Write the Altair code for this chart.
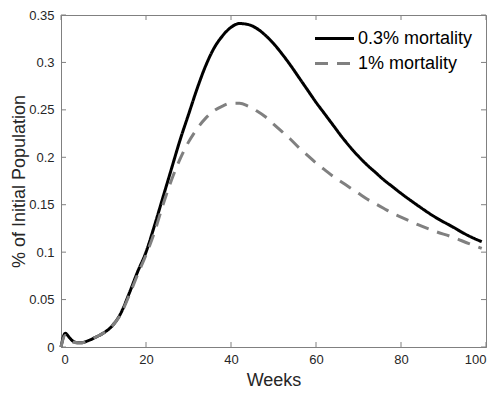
import altair as alt
import pandas as pd

# ---- data ----
weeks = [0, 1, 2, 3, 4, 5, 6, 7, 8, 10, 12, 14, 16, 18, 20, 22, 24, 26, 28, 30,
         32, 34, 36, 38, 40, 42, 44, 46, 48, 50, 52, 54, 56, 58, 60, 62, 64, 66,
         68, 70, 72, 74, 76, 78, 80, 84, 88, 92, 96, 99]
mort_03 = [0, 0.0144, 0.0098, 0.0056, 0.0045, 0.0045, 0.006, 0.0078, 0.010, 0.0148,
           0.022, 0.035, 0.056, 0.079, 0.100, 0.128, 0.158, 0.188, 0.218, 0.245,
           0.272, 0.296, 0.315, 0.328, 0.337, 0.341, 0.340, 0.336, 0.329, 0.320,
           0.309, 0.297, 0.284, 0.271, 0.258, 0.246, 0.234, 0.222, 0.211, 0.201,
           0.192, 0.184, 0.176, 0.169, 0.162, 0.149, 0.137, 0.127, 0.117, 0.111]
mort_1 = [0, 0.012, 0.008, 0.005, 0.0045, 0.0045, 0.006, 0.0078, 0.010, 0.0148,
          0.022, 0.034, 0.054, 0.076, 0.097, 0.121, 0.150, 0.176, 0.198, 0.216,
          0.230, 0.241, 0.249, 0.254, 0.257, 0.257, 0.254, 0.249, 0.243, 0.235,
          0.227, 0.219, 0.210, 0.202, 0.194, 0.187, 0.180, 0.174, 0.168, 0.162,
          0.156, 0.151, 0.146, 0.141, 0.137, 0.129, 0.122, 0.116, 0.109, 0.104]
series_names = ["0.3% mortality", "1% mortality"]
x_ticks = [0, 20, 40, 60, 80, 100]
y_ticks = [0, 0.05, 0.1, 0.15, 0.2, 0.25, 0.3, 0.35]

W, H = 425, 332
AX = "#808080"
TXT = "#262626"
FONT = "Liberation Sans"

rows = []
for name, vals in zip(series_names, [mort_03, mort_1]):
    for w, v in zip(weeks, vals):
        rows.append({"week": w, "value": v, "series": name})
df = pd.DataFrame(rows)

xs = alt.Scale(domain=[0, 100], nice=False)
ys = alt.Scale(domain=[0, 0.35], nice=False)
x_axis = alt.Axis(values=x_ticks, format="d", title="Weeks",
                  labelPadding=6, titlePadding=5, titleFontSize=18)
y_axis = alt.Axis(values=y_ticks, format="~g", title="% of Initial Population",
                  labelPadding=7, titlePadding=0, titleFontSize=18)

legend = alt.Legend(
    title=None, orient="none", legendX=262, legendY=12, padding=0,
    symbolType="M-2,0H2", symbolSize=380, symbolStrokeWidth=3,
    labelFont=FONT, labelFontSize=18, labelColor="#000000",
    labelOffset=12, rowPadding=4,
)

lines = alt.Chart(df).mark_line(strokeWidth=3, interpolate="monotone").encode(
    x=alt.X("week:Q", scale=xs, axis=x_axis),
    y=alt.Y("value:Q", scale=ys, axis=y_axis),
    color=alt.Color("series:N",
                    scale=alt.Scale(domain=series_names, range=["#000000", "#808080"]),
                    legend=legend),
    strokeDash=alt.StrokeDash("series:N",
                              scale=alt.Scale(domain=series_names, range=[[1, 0], [13, 9]]),
                              legend=legend),
)

xt = pd.DataFrame({"t": x_ticks})
yt = pd.DataFrame({"t": y_ticks})

bottom_ticks = alt.Chart(xt).mark_rule(color=AX, strokeWidth=1).encode(
    x=alt.X("t:Q", scale=xs, axis=x_axis), y=alt.value(H), y2=alt.value(H - 5))
top_ticks = alt.Chart(xt).mark_rule(color=AX, strokeWidth=1).encode(
    x=alt.X("t:Q", scale=xs, axis=x_axis), y=alt.value(0), y2=alt.value(5))
left_ticks = alt.Chart(yt).mark_rule(color=AX, strokeWidth=1).encode(
    y=alt.Y("t:Q", scale=ys, axis=y_axis), x=alt.value(0), x2=alt.value(5))
right_ticks = alt.Chart(yt).mark_rule(color=AX, strokeWidth=1).encode(
    y=alt.Y("t:Q", scale=ys, axis=y_axis), x=alt.value(W), x2=alt.value(W - 5))

chart = alt.layer(lines, bottom_ticks, top_ticks, left_ticks, right_ticks).properties(
    width=W, height=H,
    autosize=alt.AutoSizeParams(type="none"),
    padding={"left": 53, "top": 7, "right": 6, "bottom": 42},
    background="white",
).configure_view(
    stroke=AX, strokeWidth=1
).configure_axis(
    grid=False, ticks=False, domainColor=AX, domainWidth=1,
    labelFont=FONT, labelFontSize=13, labelColor=TXT,
    titleFont=FONT, titleColor=TXT, titleFontWeight="normal",
)

chart.save("out.html", embed_options={"renderer": "svg", "actions": False})
